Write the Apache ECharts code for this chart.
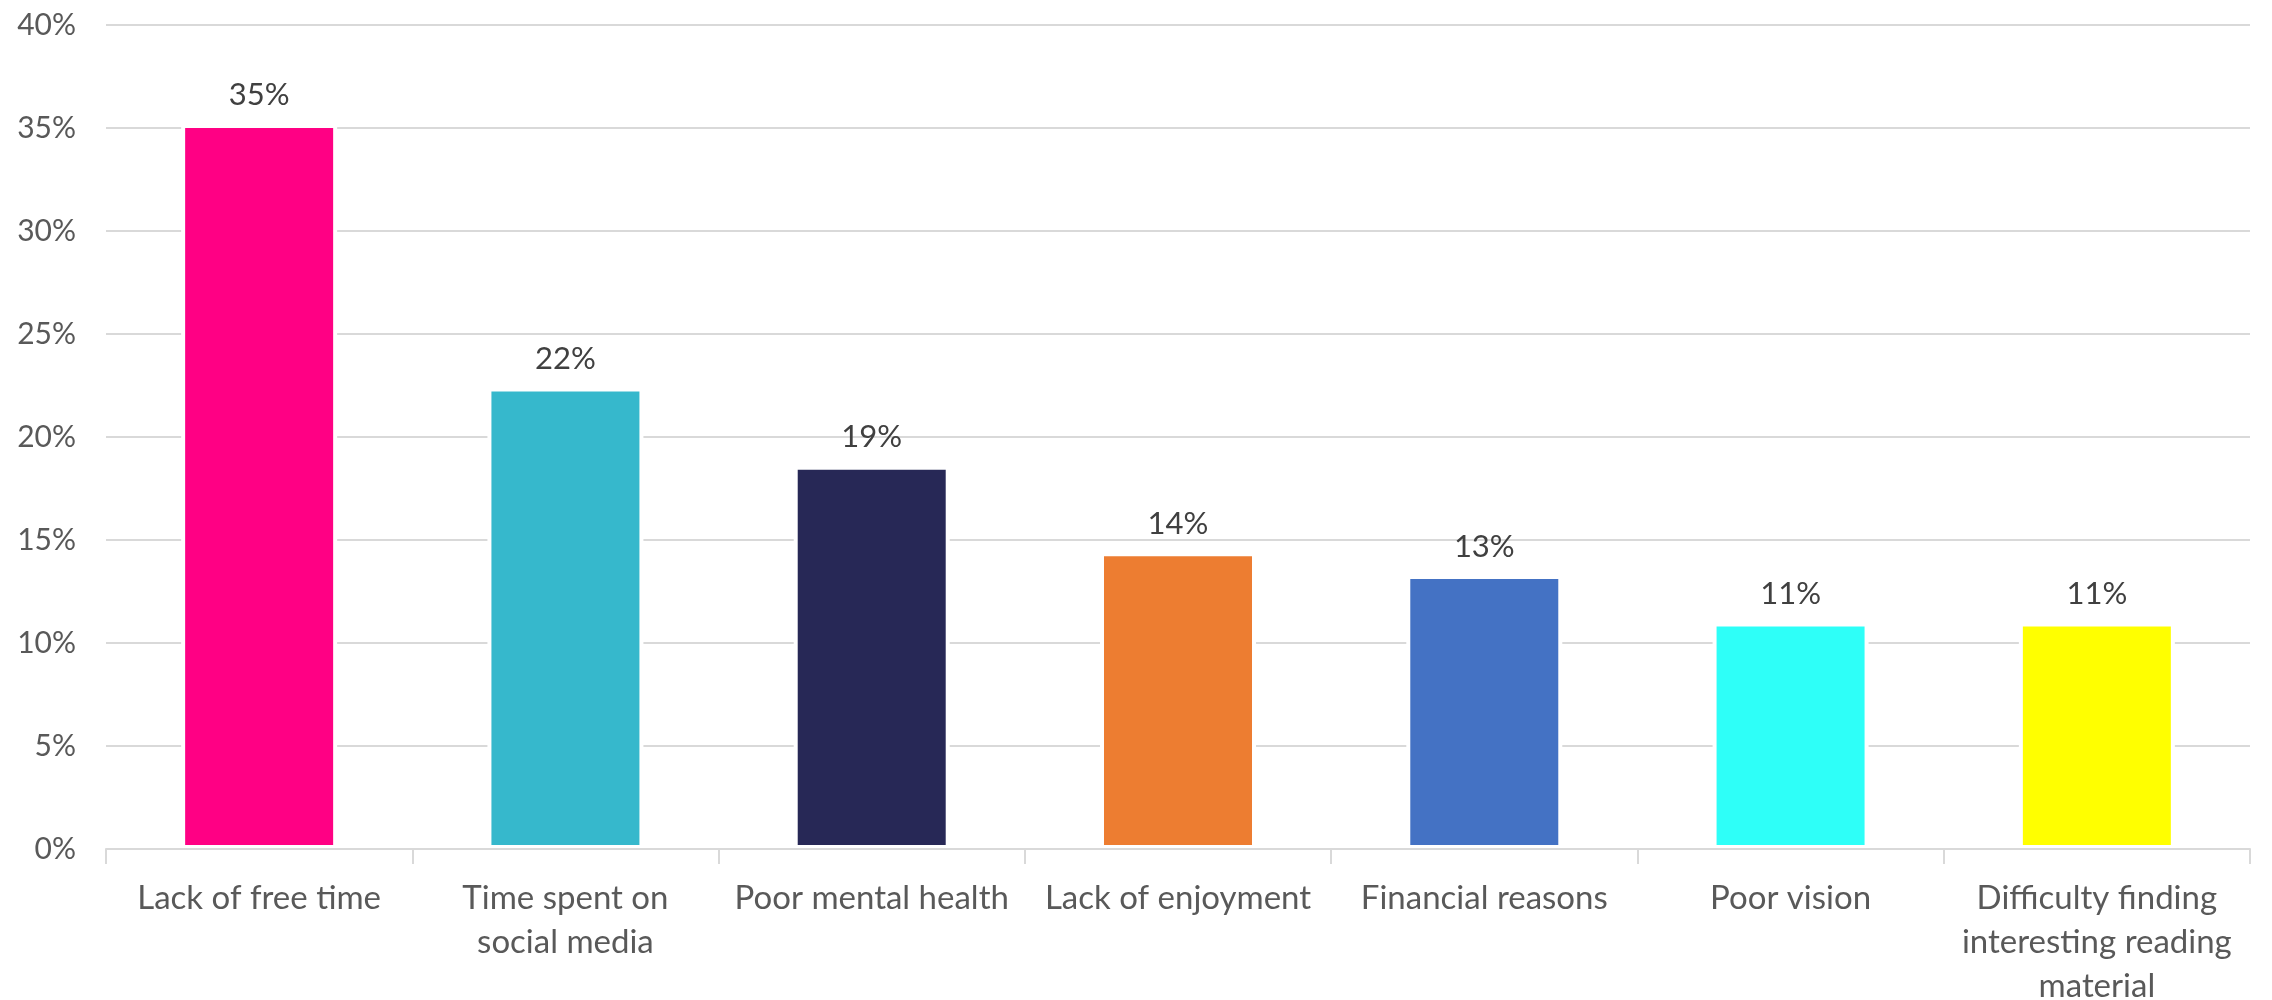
<!DOCTYPE html>
<html>
<head>
<meta charset="utf-8">
<title>Barriers to reading</title>
<script src="https://cdn.jsdelivr.net/npm/echarts@6/dist/echarts.min.js"></script>
<style>
  html, body { margin: 0; padding: 0; background: #ffffff; }
  #chart { width: 2272px; height: 1000px; }
</style>
</head>
<body>
<div id="chart"></div>
<script>
// Reasons given, in display order
const categories = [
  'Lack of free time',
  'Time spent on\nsocial media',
  'Poor mental health',
  'Lack of enjoyment',
  'Financial reasons',
  'Poor vision',
  'Difficulty finding\ninteresting reading\nmaterial'
];
// Share of respondents (%)
const shares = [35.2, 22.4, 18.6, 14.4, 13.3, 11.0, 11.0];
const barColors = ['#FF0084', '#36B8CC', '#272856', '#ED7D31', '#4472C4', '#2EFFF8', '#FFFF00'];
const yTicks = [0, 5, 10, 15, 20, 25, 30, 35, 40];

const FONT = 'Lato';

const chart = echarts.init(document.getElementById('chart'), null, { renderer: 'canvas' });

chart.setOption({
  backgroundColor: '#ffffff',
  animation: false,
  grid: {
    left: 106, right: 22, top: 25, bottom: 151,
    containLabel: false,
    outerBoundsMode: 'none'
  },
  xAxis: {
    type: 'category',
    data: categories,
    z: 3,
    axisLine: { show: true, lineStyle: { color: '#D9D9D9', width: 2 } },
    axisTick: { show: true, length: 15, lineStyle: { color: '#D9D9D9', width: 2 } },
    axisLabel: {
      interval: 0,
      margin: 27,
      color: '#595959',
      fontFamily: FONT,
      fontSize: 33,
      lineHeight: 44
    }
  },
  yAxis: {
    type: 'value',
    min: yTicks[0],
    max: yTicks[yTicks.length - 1],
    interval: 5,
    axisLine: { show: false },
    axisTick: { show: false },
    splitLine: { lineStyle: { color: '#D9D9D9', width: 2 } },
    axisLabel: {
      margin: 30,
      color: '#595959',
      fontFamily: FONT,
      fontSize: 30,
      formatter: v => v + '%'
    }
  },
  series: [{
    type: 'bar',
    barWidth: 156,
    data: shares.map((v, i) => ({
      value: v,
      itemStyle: { color: barColors[i] }
    })),
    itemStyle: { borderColor: '#ffffff', borderWidth: 4 },
    label: {
      show: true,
      position: 'top',
      distance: 13,
      color: '#404040',
      fontFamily: FONT,
      fontSize: 31,
      formatter: p => Math.round(p.value) + '%'
    }
  }]
});
</script>
</body>
</html>
